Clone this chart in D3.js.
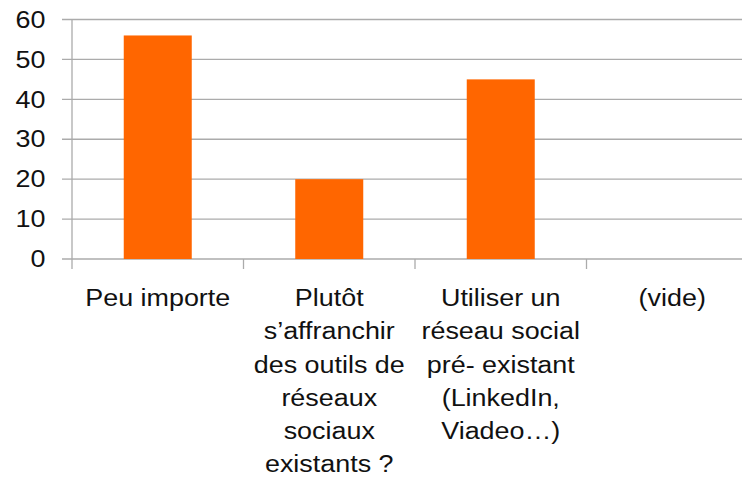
<!DOCTYPE html>
<html lang="fr">
<head>
<meta charset="utf-8">
<title>Réseau social</title>
<style>
    body { margin: 0; background: white; }
    svg text { font-family: "Liberation Sans", Arial, sans-serif; fill: #111; }
</style>
<script src="https://d3js.org/d3.v7.min.js"></script>
</head>
<body>
<div id="viz"></div>
<script>

    // data
    var categories = ["Peu importe", "Plutôt s'affranchir", "Utiliser un réseau social", "(vide)"];
    var values = [56, 20, 45, 0];
    var labelLines = [
        ["Peu importe"],
        ["Plutôt", "s\u2019affranchir", "des outils de", "réseaux", "sociaux", "existants ?"],
        ["Utiliser un", "réseau social", "pré- existant", "(LinkedIn,", "Viadeo\u2026)"],
        ["(vide)"]
    ];
    var yTicks = [0, 10, 20, 30, 40, 50, 60];

    var width = 742, height = 483;
    var stretch = 1.17; // text in the picture is widened

    var svg = d3.select("#viz").append("svg")
        .attr("width", width)
        .attr("height", height);

    var x = d3.scaleBand()
        .domain(categories)
        .range([72, 758])
        .paddingInner(0.6035)
        .paddingOuter(0.6035 / 2);

    var y = d3.scaleLinear()
        .domain([0, 60])
        .range([259, 19.5]);

    var gridColor = "#ababab";

    // horizontal grid lines, with small ticks on the left
    svg.selectAll("line.grid")
        .data(yTicks)
        .enter().append("line")
        .attr("class", "grid")
        .attr("x1", 62)
        .attr("x2", width)
        .attr("y1", d => y(d))
        .attr("y2", d => y(d))
        .style("stroke", gridColor)
        .style("stroke-width", 1.3);

    // y axis line
    svg.append("line")
        .attr("x1", x.range()[0]).attr("x2", x.range()[0])
        .attr("y1", y(60)).attr("y2", y(0) + 10)
        .style("stroke", gridColor)
        .style("stroke-width", 1.3);

    // category boundary ticks
    var step = x.step();
    var start = x.range()[0];
    svg.selectAll("line.ctick")
        .data(d3.range(1, categories.length + 1))
        .enter().append("line")
        .attr("class", "ctick")
        .attr("x1", i => start + i * step)
        .attr("x2", i => start + i * step)
        .attr("y1", y(0))
        .attr("y2", y(0) + 10)
        .style("stroke", gridColor)
        .style("stroke-width", 1.3);

    // bars
    svg.selectAll("rect.bar")
        .data(categories)
        .enter().append("rect")
        .attr("class", "bar")
        .attr("x", (d, i) => x(d))
        .attr("y", (d, i) => y(values[i]))
        .attr("width", x.bandwidth())
        .attr("height", (d, i) => y(0) - y(values[i]))
        .style("fill", "#ff6600");

    // y labels
    svg.selectAll("text.ylab")
        .data(yTicks)
        .enter().append("text")
        .attr("class", "ylab")
        .attr("transform", d => "translate(45.5," + (y(d) + 8.2) + ") scale(" + stretch + ",1)")
        .attr("text-anchor", "end")
        .style("font-size", "23px")
        .text(d => d);

    // category labels
    var lab = svg.selectAll("text.xlab")
        .data(categories)
        .enter().append("text")
        .attr("class", "xlab")
        .attr("transform", d => "translate(" + (x(d) + x.bandwidth() / 2) + ",306) scale(" + stretch + ",1)")
        .attr("text-anchor", "middle")
        .style("font-size", "23px");

    lab.selectAll("tspan")
        .data((d, i) => labelLines[i])
        .enter().append("tspan")
        .attr("x", 0)
        .attr("dy", (d, i) => i === 0 ? 0 : 33.3)
        .text(d => d);

</script>
</body>
</html>
